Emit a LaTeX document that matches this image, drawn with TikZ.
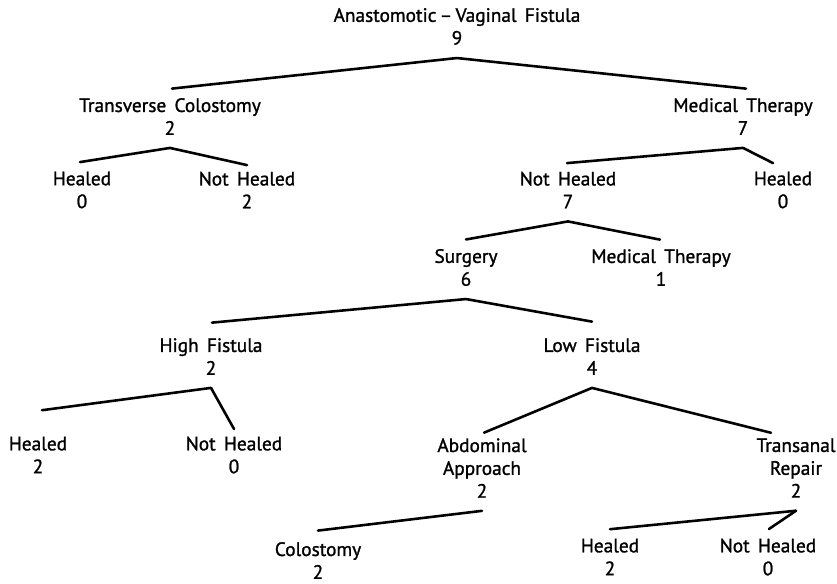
\documentclass[tikz,border=0pt]{standalone}
\usepackage{fontspec}
\setmainfont[FakeBold=1.2,WordSpace=1.6]{PT Sans}
\begin{document}
\begin{tikzpicture}
[x=0.03cm,y=-0.03cm,
  treenode/.style={align=center,inner sep=0pt,font=\fontsize{16.5}{19.5}\selectfont},%
  branch/.style={-,line width=2.2pt,line cap=round,line join=round}]
\useasboundingbox (0,0) rectangle (837,583);
%% nodes: name/x/y/text
\foreach \nodename/\x/\y/\nodetext in {
  ana/457/26.5/{Anastomotic\,--\,Vaginal Fistula\\9},
  tc/170/116.5/{Transverse Colostomy\\2},
  mt/743/116.5/{Medical Therapy\\7},
  tch/82/190/{Healed\\0},
  tcn/247/190/{Not Healed\\2},
  mtn/568/190/{Not Healed\\7},
  mth/783/190/{Healed\\0},
  sur/466/267.5/{Surgery\\6},
  mtm/661/267.5/{Medical Therapy\\1},
  hf/211/356.5/{High Fistula\\2},
  lf/592/356.5/{Low Fistula\\4},
  hfh/38/455/{Healed\\2},
  hfn/234/455/{Not Healed\\0},
  abd/482/468/{Abdominal\\Approach\\2},
  tra/796/468/{Transanal\\Repair\\2},
  col/318/560.5/{Colostomy\\2},
  trh/610/557/{Healed\\2},
  trn/768/557/{Not Healed\\0}}
{
  \node (\nodename) at (\x,\y) [treenode] {\nodetext};
}
%% branches: parent/child/shift of the lower end
\foreach \startnode/\endnode/\dx/\dy in {ana/tc/2/0, ana/mt/3/0,
  tc/tch/-2/0, tc/tcn/0/3, mt/mtn/-1/1, mt/mth/-10/1,
  mtn/sur/0/0, mtn/mtm/-1/0, sur/hf/1/-6, sur/lf/0/-7,
  hf/hfh/4/-17, hf/hfn/0/2, lf/abd/2/4, lf/tra/-25/4,
  abd/col/0/-2, tra/trh/0/0, tra/trn/1/0}
{
  \draw[branch] ([yshift=-11pt]\startnode.south) -- ([yshift=8pt,shift={(\dx,\dy)}]\endnode.north);
}
\end{tikzpicture}
\end{document}
